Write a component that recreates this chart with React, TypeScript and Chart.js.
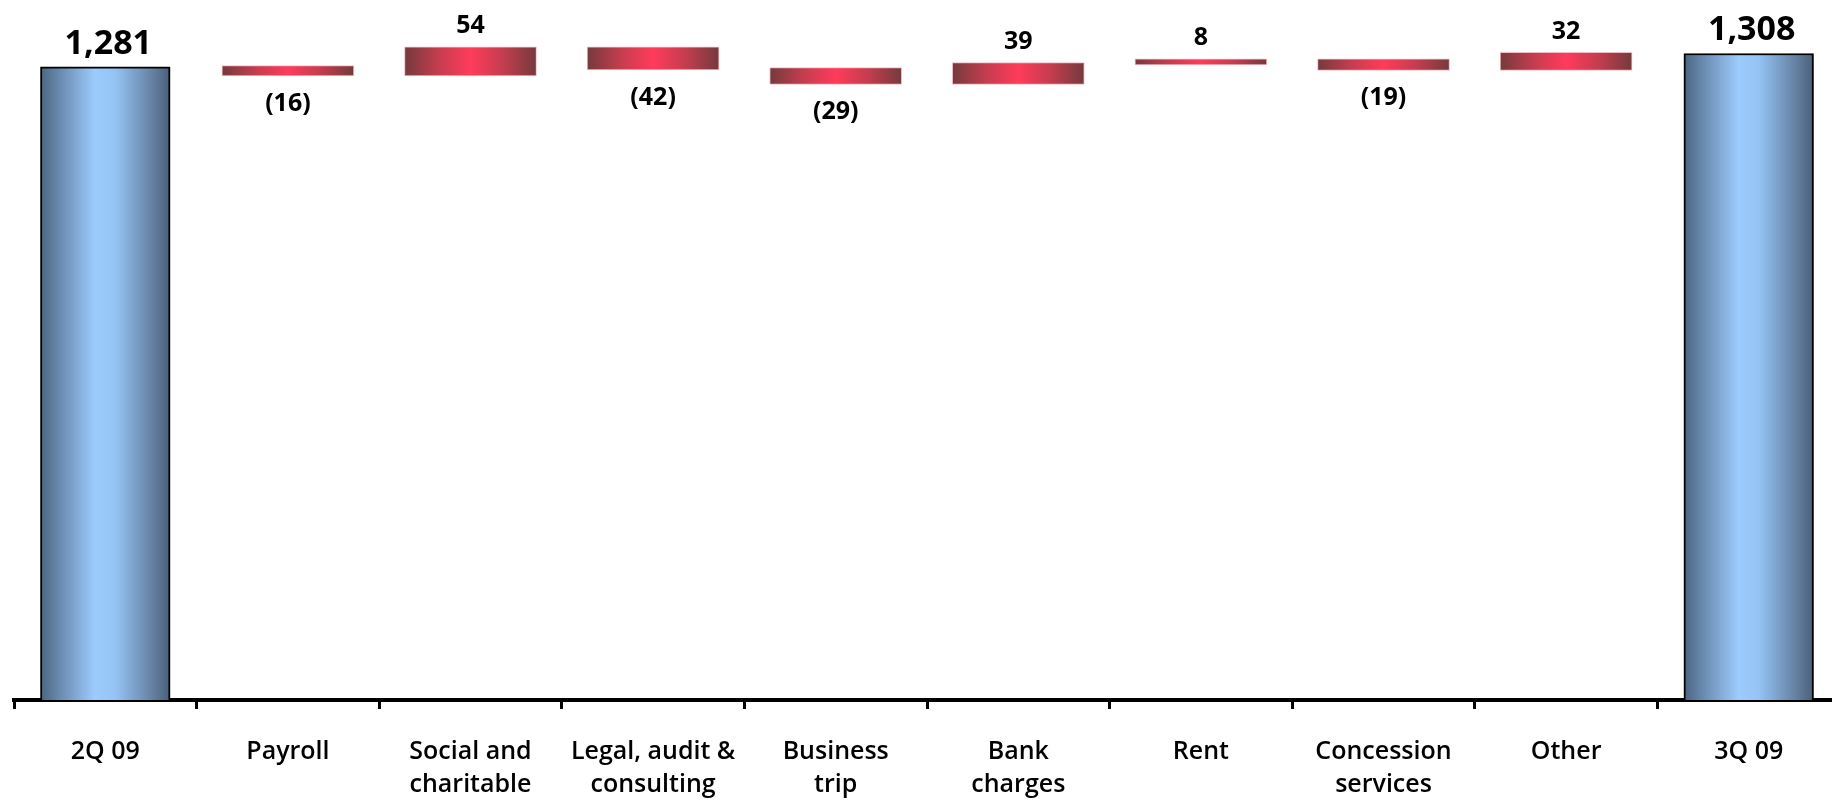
import React, { useEffect, useRef } from "react";
import { Chart, registerables } from "chart.js";

Chart.register(...registerables);

const categories: string[][] = [
  ["2Q 09"],
  ["Payroll"],
  ["Social and", "charitable"],
  ["Legal, audit &", "consulting"],
  ["Business", "trip"],
  ["Bank", "charges"],
  ["Rent"],
  ["Concession", "services"],
  ["Other"],
  ["3Q 09"],
];
const startTotal = 1281;
const endTotal = 1308;
const changes = [-16, 54, -42, -29, 39, 8, -19, 32];
const valueLabels = ["1,281", "(16)", "54", "(42)", "(29)", "39", "8", "(19)", "32", "1,308"];
const yMin = 0;
const yMax = 1400;

const BAR_PCT = 0.71;
const CANVAS_W = 1850;
const CANVAS_H = 828;

function buildRanges(): [number, number][] {
  const r: [number, number][] = [[0, startTotal]];
  let run = startTotal;
  for (const c of changes) {
    r.push([run, run + c]);
    run += c;
  }
  r.push([0, endTotal]);
  return r;
}

const isTotal = (i: number) => i === 0 || i === categories.length - 1;

function barGradient(ctx: any) {
  const chart = ctx.chart;
  const { chartArea, scales } = chart;
  if (!chartArea || !scales.x) return "#888";
  const x = scales.x.getPixelForValue(ctx.dataIndex);
  const w = (scales.x.width / categories.length) * BAR_PCT;
  const g = chart.ctx.createLinearGradient(x - w / 2, 0, x + w / 2, 0);
  if (isTotal(ctx.dataIndex)) {
    g.addColorStop(0, "#4a6480");
    g.addColorStop(0.15, "#6a8bb0");
    g.addColorStop(0.42, "#9ccbfd");
    g.addColorStop(0.58, "#94c3f4");
    g.addColorStop(0.85, "#6784a6");
    g.addColorStop(1, "#4a5f78");
  } else {
    g.addColorStop(0, "#783a3d");
    g.addColorStop(0.25, "#c43d4f");
    g.addColorStop(0.5, "#ff3b5b");
    g.addColorStop(0.75, "#c43d4f");
    g.addColorStop(1, "#783a3c");
  }
  return g;
}

const valueLabelPlugin = {
  id: "valueLabels",
  afterDatasetsDraw(chart: any) {
    const meta = chart.getDatasetMeta(0);
    const ctx = chart.ctx;
    ctx.save();
    ctx.fillStyle = "#000";
    ctx.textAlign = "center";
    ctx.textBaseline = "middle";
    meta.data.forEach((el: any, i: number) => {
      const top = Math.min(el.y, el.base);
      const bottom = Math.max(el.y, el.base);
      const neg = !isTotal(i) && changes[i - 1] < 0;
      if (isTotal(i)) {
        ctx.font = "700 34px 'Open Sans'";
        ctx.fillText(valueLabels[i], el.x + 3, top - 23);
      } else {
        ctx.font = "700 25px 'Open Sans'";
        if (neg) ctx.fillText(valueLabels[i], el.x, bottom + 29);
        else ctx.fillText(valueLabels[i], el.x, top - 22);
      }
    });
    ctx.restore();
  },
};

export default function App() {
  const ref = useRef<HTMLCanvasElement | null>(null);
  useEffect(() => {
    if (!ref.current) return;
    const ranges = buildRanges();
    const chart = new Chart(ref.current, {
      type: "bar",
      data: {
        labels: categories,
        datasets: [
          {
            data: ranges as any,
            backgroundColor: barGradient,
            borderColor: (c: any) => (isTotal(c.dataIndex) ? "#000" : "rgba(235,160,170,0.7)"),
            borderWidth: (c: any) => (isTotal(c.dataIndex) ? 2 : 1),
            borderSkipped: (c: any) => (isTotal(c.dataIndex) ? "start" : false),
            inflateAmount: (c: any) => (isTotal(c.dataIndex) ? 0.33 : 1.5),
            categoryPercentage: 1,
            barPercentage: BAR_PCT,
          } as any,
        ],
      },
      options: {
        responsive: false,
        animation: false,
        devicePixelRatio: 1,
        layout: { padding: { left: 14, right: 10, top: 8, bottom: 0 } },
        plugins: { legend: { display: false }, tooltip: { enabled: false } },
        scales: {
          y: { display: false, min: yMin, max: yMax },
          x: {
            grid: {
              display: true,
              drawOnChartArea: false,
              drawTicks: true,
              tickLength: 9,
              offset: true,
              color: "#000",
              lineWidth: 3,
            },
            border: { display: true, color: "#000", width: 4 },
            ticks: {
              color: "#000",
              padding: 27,
              maxRotation: 0,
              autoSkip: false,
              font: { family: "'Open Sans'", size: 25, weight: "600" as any, lineHeight: 1.3 },
            },
          },
        },
      },
      plugins: [valueLabelPlugin],
    });
    return () => chart.destroy();
  }, []);
  return (
    <div
      style={{
        position: "fixed",
        left: 0,
        top: 0,
        width: 1832,
        height: 801,
        overflow: "hidden",
        background: "#fff",
      }}
    >
      <canvas ref={ref} width={CANVAS_W} height={CANVAS_H} style={{ width: CANVAS_W, height: CANVAS_H, display: "block" }} />
    </div>
  );
}
